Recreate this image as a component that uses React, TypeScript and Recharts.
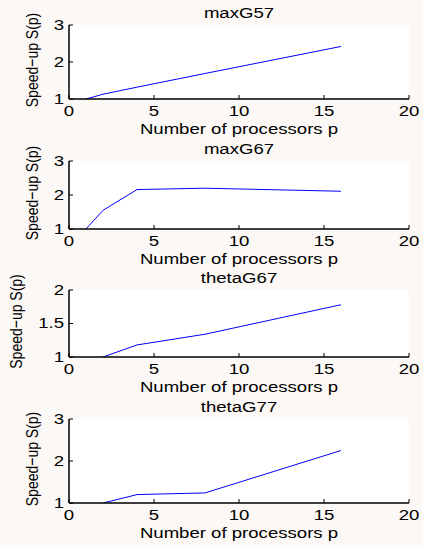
import React from "react";
import { LineChart, Line, XAxis, YAxis, CartesianGrid } from "recharts";

const processors = [1, 2, 4, 8, 16];
const maxG57 = [1.0, 1.13, 1.32, 1.69, 2.42];
const maxG67 = [1.0, 1.55, 2.16, 2.2, 2.11];
const thetaG67 = [null, 1.0, 1.18, 1.34, 1.78];
const thetaG77 = [null, 1.0, 1.2, 1.24, 2.25];

const xTicks = [0, 5, 10, 15, 20];
const yTicksA = [1, 2, 3];
const yTicksB = [1, 1.5, 2];

const titles = ["maxG57", "maxG67", "thetaG67", "thetaG77"];
const xLabel = "Number of processors p";
const yLabel = "Speed\u2212up S(p)";

const FONT = "'Liberation Sans', Arial, Helvetica, sans-serif";
const SX = 1.24;
const BG = "#fcf8f6";

const panels = [
  { title: titles[0], values: maxG57, domain: [1, 3], yTicks: yTicksA, top: 25, bottom: 99, yLabX: 32 },
  { title: titles[1], values: maxG67, domain: [1, 3], yTicks: yTicksA, top: 161, bottom: 229, yLabX: 32 },
  { title: titles[2], values: thetaG67, domain: [1, 2], yTicks: yTicksB, top: 290, bottom: 357, yLabX: 16 },
  { title: titles[3], values: thetaG77, domain: [1, 3], yTicks: yTicksA, top: 419, bottom: 503, yLabX: 32 },
];

const PLOT_LEFT = 69;
const PLOT_RIGHT = 409;
const W = 423;
const PAD_TOP = 20;
const PAD_BOTTOM = 45;

const BottomTick = (props: any) => {
  const { x, y, payload } = props;
  return (
    <g>
      <line x1={x} y1={y} x2={x} y2={y - 4} stroke="#000" strokeWidth={1} />
      <text
        transform={`translate(${x},${y + 12}) scale(${SX},1)`}
        textAnchor="middle"
        dominantBaseline="central"
        fontFamily={FONT}
        fontSize={15}
        fill="#000"
      >
        {payload.value}
      </text>
    </g>
  );
};

const TopTick = (props: any) => {
  const { x, y } = props;
  return <line x1={x} y1={y} x2={x} y2={y + 4} stroke="#000" strokeWidth={1} />;
};

const LeftTick = (props: any) => {
  const { x, y, payload } = props;
  return (
    <g>
      <line x1={x} y1={y} x2={x + 4} y2={y} stroke="#000" strokeWidth={1} />
      <text
        transform={`translate(${x - 5},${y}) scale(${SX},1)`}
        textAnchor="end"
        dominantBaseline="central"
        fontFamily={FONT}
        fontSize={15}
        fill="#000"
      >
        {payload.value}
      </text>
    </g>
  );
};

const RightTick = (props: any) => {
  const { x, y } = props;
  return <line x1={x} y1={y} x2={x - 4} y2={y} stroke="#000" strokeWidth={1} />;
};

function Panel({ p }: { p: any }) {
  const data = processors.map((v, i) => ({ p: v, s: p.values[i] }));
  const h = p.bottom - p.top + PAD_TOP + PAD_BOTTOM;
  return (
    <div style={{ position: "absolute", left: 0, top: p.top - PAD_TOP, width: W, height: h }}>
      <LineChart
        width={W}
        height={h}
        data={data}
        margin={{ top: PAD_TOP, right: W - PLOT_RIGHT, bottom: 0, left: 0 }}
      >
        <CartesianGrid xAxisId="b" yAxisId="l" horizontal={false} vertical={false} fill="#ffffff" stroke="none" />
        <XAxis
          xAxisId="b"
          dataKey="p"
          type="number"
          domain={[0, 20]}
          ticks={xTicks}
          height={PAD_BOTTOM}
          tickSize={0}
          tickMargin={0}
          tickLine={false}
          axisLine={{ stroke: "#000", strokeWidth: 1.5 }}
          tick={<BottomTick />}
          interval={0}
        />
        <XAxis
          xAxisId="t"
          dataKey="p"
          type="number"
          orientation="top"
          domain={[0, 20]}
          ticks={xTicks}
          height={0}
          tickSize={0}
          tickMargin={0}
          tickLine={false}
          axisLine={{ stroke: "#000", strokeWidth: 1.5 }}
          tick={<TopTick />}
          interval={0}
        />
        <YAxis
          yAxisId="l"
          type="number"
          domain={p.domain}
          ticks={p.yTicks}
          width={PLOT_LEFT}
          tickSize={0}
          tickMargin={0}
          tickLine={false}
          axisLine={{ stroke: "#000", strokeWidth: 1.5 }}
          tick={<LeftTick />}
          interval={0}
          allowDataOverflow
        />
        <YAxis
          yAxisId="r"
          type="number"
          orientation="right"
          domain={p.domain}
          ticks={p.yTicks}
          width={0}
          tickSize={0}
          tickMargin={0}
          tickLine={false}
          axisLine={{ stroke: "#000", strokeWidth: 1.5 }}
          tick={<RightTick />}
          interval={0}
          allowDataOverflow
        />
        <Line
          xAxisId="b"
          yAxisId="l"
          dataKey="s"
          stroke="#0000ff"
          strokeWidth={1}
          dot={false}
          activeDot={false}
          connectNulls
          isAnimationActive={false}
        />
      </LineChart>
    </div>
  );
}

export default function App() {
  return (
    <div style={{ position: "absolute", left: 0, top: 0, width: 423, height: 545, background: BG, overflow: "hidden" }}>
      {panels.map((p, i) => (
        <Panel key={i} p={p} />
      ))}
      <svg width={423} height={545} style={{ position: "absolute", left: 0, top: 0, pointerEvents: "none" }}>
        {panels.map((p, i) => {
          const cx = (PLOT_LEFT + PLOT_RIGHT) / 2;
          const cy = (p.top + p.bottom) / 2 - 2;
          return (
            <g key={i} fontFamily={FONT} fill="#000">
              <text
                transform={`translate(${cx},${p.top - 12}) scale(${SX},1)`}
                textAnchor="middle"
                dominantBaseline="central"
                fontSize={15}
              >
                {p.title}
              </text>
              <text
                transform={`translate(${cx},${p.bottom + 30}) scale(${SX},1)`}
                textAnchor="middle"
                dominantBaseline="central"
                fontSize={15}
              >
                {xLabel}
              </text>
              <text
                transform={`translate(${p.yLabX},${cy}) scale(${SX},1) rotate(-90)`}
                textAnchor="middle"
                dominantBaseline="central"
                fontSize={14}
              >
                {yLabel}
              </text>
            </g>
          );
        })}
      </svg>
    </div>
  );
}
